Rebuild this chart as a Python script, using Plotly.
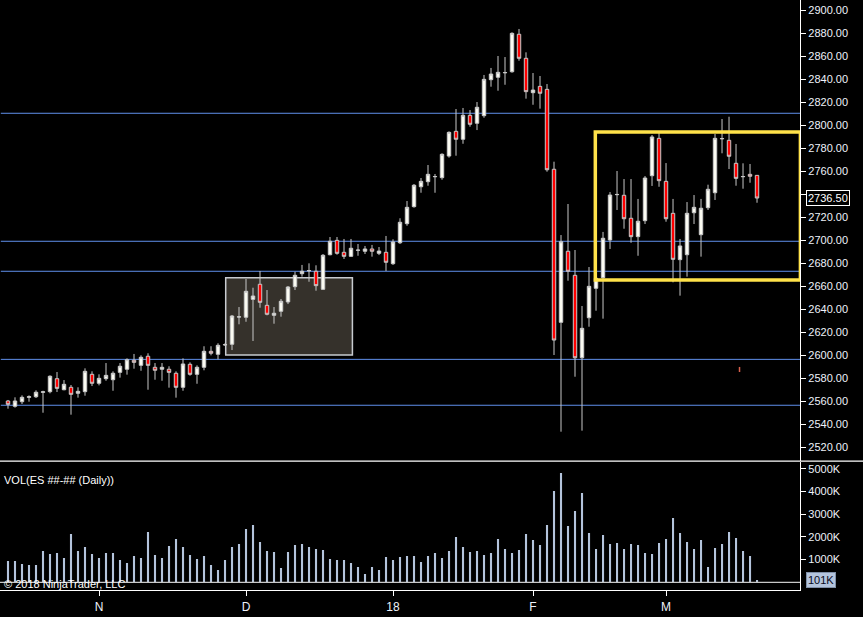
import plotly.graph_objects as go

# --- daily ES bars, Oct 2017 - Mar 2018 ---
bar_idx = list(range(108))

opens = [
    2560.0, 2555.4, 2559.4, 2563.2, 2563.7, 2567.5, 2568.1, 2579.4, 2569.8, 2571.9,
    2566.7, 2568.1, 2583.2, 2575.4, 2579.4, 2578.5, 2584.9, 2587.6, 2595.4, 2591.0,
    2598.9, 2589.3, 2587.6, 2587.6, 2584.1, 2571.9, 2591.9, 2583.2, 2589.3, 2603.2,
    2600.6, 2608.8, 2609.3, 2633.0, 2632.8, 2648.4, 2661.5, 2643.2, 2634.5, 2638.0,
    2646.1, 2659.4, 2670.7, 2673.2, 2672.8, 2657.1, 2687.2, 2699.7, 2689.3, 2685.8,
    2691.0, 2690.2, 2692.2, 2688.4, 2689.3, 2679.4, 2697.6, 2714.2, 2729.0, 2746.3,
    2750.7, 2755.0, 2754.2, 2773.0, 2794.5, 2787.6, 2808.4, 2801.5, 2808.1, 2839.4,
    2841.5, 2845.4, 2846.3, 2878.9, 2858.0, 2828.1, 2833.6, 2831.0, 2761.5, 2628.4,
    2690.2, 2669.3, 2597.6, 2632.4, 2658.0, 2667.2, 2700.0, 2739.4, 2738.9, 2718.9,
    2702.9, 2716.8, 2755.9, 2788.4, 2751.0, 2723.2, 2682.9, 2687.2, 2723.7, 2704.6,
    2728.1, 2741.1, 2788.0, 2786.7, 2766.7, 2755.0, 2757.1, 2756.2,
]
highs = [
    2560.9, 2563.2, 2564.9, 2564.9, 2569.3, 2568.9, 2582.3, 2585.2, 2578.2, 2573.9,
    2571.9, 2588.4, 2585.8, 2583.2, 2593.0, 2585.8, 2593.0, 2597.1, 2600.9, 2599.7,
    2601.5, 2593.0, 2593.0, 2590.2, 2585.8, 2597.1, 2593.6, 2591.0, 2607.6, 2607.6,
    2610.2, 2610.2, 2634.8, 2641.7, 2666.1, 2658.5, 2673.0, 2656.5, 2641.7, 2648.7,
    2660.0, 2672.4, 2678.3, 2679.7, 2678.0, 2687.8, 2702.6, 2702.6, 2700.9, 2700.9,
    2696.5, 2694.8, 2695.7, 2693.9, 2703.5, 2700.6, 2718.9, 2733.9, 2748.7, 2753.9,
    2765.2, 2757.4, 2775.4, 2794.5, 2813.9, 2814.8, 2813.0, 2820.0, 2843.5, 2849.6,
    2860.0, 2859.1, 2880.6, 2883.5, 2863.2, 2845.2, 2842.6, 2835.6, 2768.1, 2704.3,
    2731.3, 2691.3, 2642.6, 2676.5, 2668.7, 2707.0, 2741.7, 2760.0, 2753.0, 2753.0,
    2735.7, 2755.6, 2791.3, 2793.3, 2766.9, 2735.7, 2700.9, 2733.0, 2739.1, 2735.7,
    2748.1, 2792.2, 2805.2, 2807.2, 2783.5, 2766.7, 2766.1, 2756.5,
]
lows = [
    2553.3, 2554.2, 2557.4, 2559.4, 2562.6, 2549.8, 2566.7, 2567.8, 2569.3, 2548.1,
    2562.9, 2564.6, 2573.0, 2573.6, 2577.6, 2568.9, 2580.3, 2582.9, 2588.1, 2586.3,
    2569.8, 2578.5, 2577.6, 2571.6, 2562.9, 2568.9, 2582.0, 2575.0, 2586.7, 2599.7,
    2596.2, 2607.8, 2604.3, 2626.7, 2628.9, 2612.2, 2641.1, 2634.5, 2627.2, 2633.3,
    2644.3, 2656.5, 2668.1, 2663.7, 2655.9, 2656.5, 2686.7, 2687.2, 2683.5, 2685.2,
    2686.3, 2687.8, 2685.5, 2686.9, 2673.0, 2678.3, 2696.5, 2712.4, 2728.1, 2741.1,
    2747.2, 2741.1, 2752.4, 2771.6, 2773.3, 2783.7, 2798.5, 2795.6, 2806.3, 2833.3,
    2829.8, 2835.0, 2845.5, 2855.9, 2822.9, 2817.6, 2814.2, 2759.4, 2600.0, 2533.3,
    2664.6, 2581.1, 2534.2, 2624.6, 2638.5, 2631.6, 2692.2, 2726.1, 2709.8, 2697.6,
    2686.3, 2713.9, 2747.0, 2746.3, 2715.9, 2663.2, 2651.6, 2668.1, 2713.9, 2685.5,
    2726.1, 2734.8, 2775.4, 2761.7, 2747.2, 2744.6, 2749.8, 2732.4,
]
closes = [
    2557.1, 2560.0, 2563.2, 2563.7, 2567.6, 2568.0, 2581.5, 2571.0, 2574.5, 2565.8,
    2568.4, 2585.8, 2575.4, 2579.7, 2582.3, 2584.1, 2590.2, 2595.9, 2593.6, 2598.0,
    2591.0, 2586.7, 2589.3, 2584.9, 2571.9, 2592.2, 2583.2, 2589.3, 2603.2, 2601.5,
    2608.4, 2609.0, 2633.9, 2633.2, 2655.4, 2651.3, 2645.8, 2635.4, 2636.3, 2646.7,
    2659.1, 2669.3, 2672.8, 2673.4, 2660.3, 2686.7, 2698.9, 2688.4, 2685.8, 2692.8,
    2691.2, 2692.2, 2690.2, 2690.4, 2680.6, 2698.3, 2715.4, 2728.4, 2747.6, 2751.0,
    2757.1, 2755.2, 2774.5, 2793.6, 2787.6, 2808.4, 2800.6, 2815.4, 2839.7, 2844.3,
    2845.8, 2845.6, 2879.7, 2858.0, 2829.0, 2830.4, 2827.6, 2761.1, 2613.0, 2698.5,
    2672.8, 2597.6, 2623.2, 2659.7, 2666.7, 2701.5, 2739.1, 2739.6, 2718.5, 2702.9,
    2716.3, 2753.9, 2789.6, 2751.6, 2718.5, 2683.2, 2694.8, 2723.2, 2728.4, 2727.6,
    2744.1, 2788.4, 2788.2, 2772.8, 2753.6, 2755.2, 2755.4, 2736.5,
]
volumes_k = [
    941, 941, 809, 764, 764, 1382, 1250, 1294, 1073, 2132,
    1382, 1558, 1250, 1073, 1294, 1294, 985, 853, 1161, 1073,
    2220, 1205, 1073, 1602, 1911, 1558, 1205, 1029, 1161, 764,
    544, 985, 1558, 1690, 2352, 2528, 1779, 1382, 1338, 632,
    1338, 1646, 1690, 1558, 1470, 1426, 1029, 985, 985, 853,
    676, 368, 676, 544, 1117, 985, 1117, 1161, 1161, 897,
    1161, 1294, 1073, 1382, 1999, 1558, 1338, 1382, 1205, 1294,
    1911, 1470, 1294, 1426, 2132, 1867, 1646, 2528, 4028, 4822,
    2484, 3146, 3940, 2176, 1470, 2087, 1690, 1735, 1470, 1690,
    1646, 1294, 1250, 1735, 1911, 2837, 2176, 1779, 1470, 1867,
    676, 1514, 1690, 2220, 1955, 1382, 1161, 101,
]

month_ticks = [13, 34, 55, 75, 94]
month_labels = ["N", "D", "18", "F", "M"]

level_lines = [2810.2, 2698.9, 2672.8, 2596.2, 2556.3]
price_ticks = list(range(2520, 2901, 20))
vol_ticks = [1000, 2000, 3000, 4000, 5000]

last_price = 2736.50
last_volume_k = 101

FONT = "Liberation Sans, Arial, sans-serif"
AXIS_TXT = "#eef2fa"

fig = go.Figure()

fig.add_trace(
    go.Candlestick(
        x=bar_idx, open=opens, high=highs, low=lows, close=closes,
        increasing=dict(fillcolor="#fbfbf2", line=dict(color="#c8c8c8", width=1)),
        decreasing=dict(fillcolor="#ff0000", line=dict(color="#c8c8c8", width=1)),
        whiskerwidth=0,
        xaxis="x", yaxis="y",
        name="ES",
    )
)

fig.add_trace(
    go.Bar(
        x=bar_idx, y=volumes_k, width=0.3,
        marker=dict(color="#b4c4dc", line=dict(width=0)),
        xaxis="x2", yaxis="y2",
        name="VOL",
    )
)

shapes = []
# horizontal levels
for lv in level_lines:
    shapes.append(dict(type="line", xref="x domain", yref="y", x0=0.001, x1=1, y0=lv, y1=lv,
                       line=dict(color="#5f8fea", width=1), layer="below"))

# consolidation box in December
shapes.append(dict(type="rect", xref="x", yref="y", x0=31.1, x1=49.2, y0=2600.0, y1=2667.2,
                   fillcolor="#35312b", line=dict(color="#c8cbd0", width=1.5), layer="below"))
# yellow range box
shapes.append(dict(type="rect", xref="x", yref="y", x0=83.9, x1=113.2, y0=2665.2, y1=2793.9,
                   fillcolor="rgba(0,0,0,0)", line=dict(color="#ffe24a", width=3.5)))
# small marker
shapes.append(dict(type="line", xref="x", yref="y", x0=104.5, x1=104.5, y0=2585.2, y1=2589.6,
                   line=dict(color="#d8604c", width=1.5)))
# panel separator, volume zero line
shapes.append(dict(type="line", xref="paper", yref="paper", x0=0, x1=1.08, y0=0.2186, y1=0.2186,
                   line=dict(color="#ffffff", width=1.2)))
shapes.append(dict(type="line", xref="x2 domain", yref="y2", x0=0, x1=1, y0=0, y1=0,
                   line=dict(color="#c8c8c8", width=1.2)))

annotations = [
    dict(xref="paper", yref="y", x=1, y=last_price, xanchor="left", yanchor="middle", xshift=6,
         text=f"{last_price:.2f}", showarrow=False, font=dict(family=FONT, size=11, color="#ffffff"),
         bgcolor="#000000", bordercolor="#ffffff", borderwidth=1, borderpad=1),
    dict(xref="paper", yref="y2", x=1, y=last_volume_k, xanchor="left", yanchor="middle", xshift=6,
         text=f"{last_volume_k}K", showarrow=False, font=dict(family=FONT, size=11, color="#0a0a20"),
         bgcolor="#b4c4dc", bordercolor="#8090a8", borderwidth=1, borderpad=1),
    dict(xref="paper", yref="paper", x=0.003, y=0.2, xanchor="left", yanchor="top",
         text="VOL(ES ##-## (Daily))", showarrow=False, font=dict(family=FONT, size=11, color="#ffffff")),
    dict(xref="paper", yref="paper", x=0.003, y=-0.003, xanchor="left", yanchor="bottom",
         text="© 2018 NinjaTrader, LLC", showarrow=False, font=dict(family=FONT, size=11, color="#ffffff")),
]

# the 2740 label sits under the last-price marker
price_tick_text = ["" if v == 2740 else f"{v:.2f}" for v in price_ticks]

fig.update_layout(
    width=863, height=617,
    margin=dict(l=0, r=63, t=0, b=27),
    paper_bgcolor="#000000", plot_bgcolor="#000000",
    showlegend=False,
    font=dict(family=FONT, size=11, color=AXIS_TXT),
    shapes=shapes, annotations=annotations,
    xaxis=dict(domain=[0, 1], anchor="y", range=[-1.143, 113.14], showgrid=False, zeroline=False,
               showticklabels=False, rangeslider=dict(visible=False), showline=False),
    xaxis2=dict(domain=[0, 1], anchor="y2", matches="x", range=[-1.143, 113.14], showgrid=False,
                zeroline=False, tickmode="array", tickvals=month_ticks, ticktext=month_labels,
                ticks="outside", ticklen=5, tickcolor="#ffffff", showline=True, linecolor="#ffffff",
                linewidth=1.2, tickfont=dict(family=FONT, size=12, color=AXIS_TXT)),
    yaxis=dict(domain=[0.2186, 1], anchor="x", side="right", range=[2507.8, 2908.7],
               tickmode="array", tickvals=price_ticks, ticktext=price_tick_text,
               ticks="outside", ticklen=5, tickcolor="#ffffff", showgrid=False, zeroline=False,
               showline=True, linecolor="#ffffff", linewidth=1.2,
               tickfont=dict(family=FONT, size=11, color=AXIS_TXT)),
    yaxis2=dict(domain=[0, 0.217], anchor="x2", side="right", range=[-339, 5308],
                tickmode="array", tickvals=vol_ticks, ticktext=[f"{v}K" for v in vol_ticks],
                ticks="outside", ticklen=5, tickcolor="#ffffff", showgrid=False, zeroline=False,
                showline=True, linecolor="#ffffff", linewidth=1.2,
                tickfont=dict(family=FONT, size=11, color=AXIS_TXT)),
)

fig.write_html("out.html", config={"displayModeBar": False},
               post_script="document.body.style.margin='0';")
